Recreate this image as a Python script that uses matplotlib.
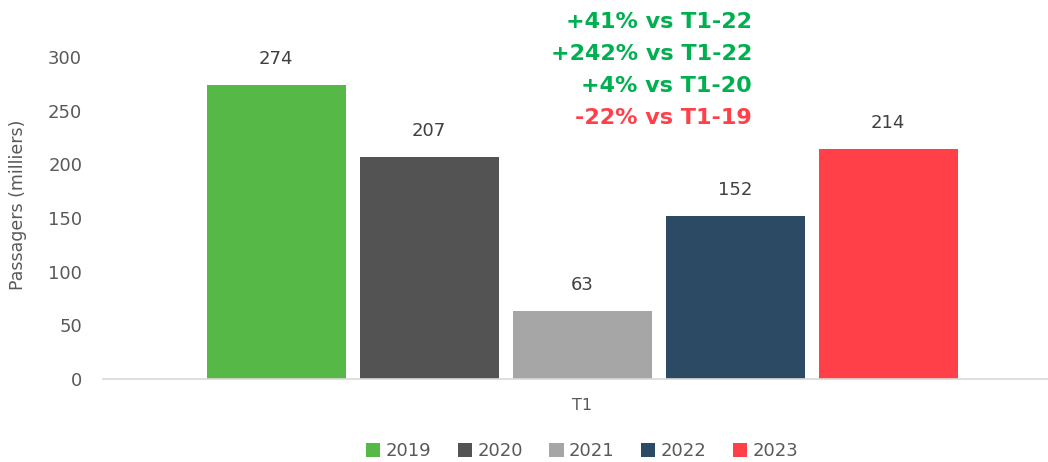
#!/usr/bin/env python3
import numpy as np
import matplotlib
matplotlib.use("Agg")
import matplotlib.pyplot as plt
from matplotlib.patches import Patch

# Data
categories = ["T1"]
years = ["2019", "2020", "2021", "2022", "2023"]
values = [274, 207, 63, 152, 214]
colors = ["#56B947", "#535353", "#A6A6A6", "#2C4A63", "#FF4049"]

notes = ["+41% vs T1-22", "+242% vs T1-22", "+4% vs T1-20", "-22% vs T1-19"]
note_colors = ["#00B050", "#00B050", "#00B050", "#FF4049"]

plt.rcParams["font.family"] = ["DejaVu Sans"]
grey = "#595959"

W, H = 1048, 462
fig = plt.figure(figsize=(W / 100, H / 100), dpi=100)
# plot area in pixel coords: left 103, right 1048, bottom 379, top 57
ax = fig.add_axes([103 / W, (H - 379) / H, (1048 - 103) / W, (379 - 57) / H])

pitch = 1.0
width = 139 / 153
n = len(years)
offsets = (np.arange(n) - (n - 1) / 2) * pitch
for i, (yr, v, c) in enumerate(zip(years, values, colors)):
    ax.bar(offsets[i], v, width=width, color=c, label=yr, zorder=2)
    ax.annotate(str(v), (offsets[i], v), xytext=(0, 18.7), textcoords="offset points",
                ha="center", va="center", fontsize=13, color="#404040")

ax.set_xlim((103 - 582) / 153, (1048 - 582) / 153)
ax.set_ylim(0, 300)
ax.set_yticks(np.arange(0, 301, 50))
ax.set_xticks([0])
ax.set_xticklabels(categories)
ax.tick_params(axis="y", length=0, pad=15, labelsize=13, labelcolor=grey)
ax.tick_params(axis="x", length=0, pad=14, labelsize=11.5, labelcolor=grey)
for s in ["top", "right", "left"]:
    ax.spines[s].set_visible(False)
ax.spines["bottom"].set_color("#D9D9D9")
ax.spines["bottom"].set_linewidth(1.2)

fig.text(18 / W, 1 - 205 / H, "Passagers (milliers)", rotation=90, ha="center", va="center",
         fontsize=12.5, color=grey)

note_y = [22, 54, 86, 118]
for t, c, py in zip(notes, note_colors, note_y):
    fig.text(752 / W, 1 - py / H, t, ha="right", va="center", fontsize=16,
             fontweight="bold", color=c)

handles = [Patch(facecolor=c, label=y) for y, c in zip(years, colors)]
fig.legend(handles=handles, loc="center", bbox_to_anchor=(582 / W, 1 - 451 / H), ncol=5,
           frameon=False, fontsize=13, handlelength=0.8, handleheight=0.8,
           handletextpad=0.3, columnspacing=1.45, labelcolor=grey)

fig.savefig("out.png", dpi=100)
